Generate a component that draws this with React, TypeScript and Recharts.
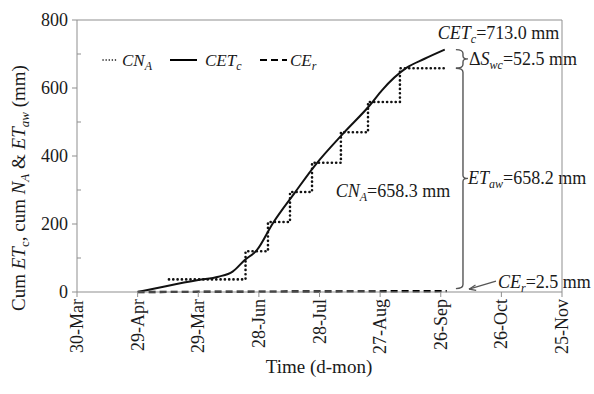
import React from 'react';
import {
  LineChart,
  Line,
  XAxis,
  YAxis,
  ReferenceLine,
  ReferenceArea,
  ReferenceDot,
  Legend,
  Label,
} from 'recharts';

const FONT = '"Liberation Serif", "Times New Roman", serif';
const TEXT = '#1a1a1a';
const AXIS = '#8f8f8f';
const BRACKET = '#555555';

// x axis: days since 30-Mar
const xTickDays = [0, 30, 60, 90, 120, 150, 180, 210, 240];
const xTickLabels = ['30-Mar', '29-Apr', '29-Mar', '28-Jun', '28-Jul', '27-Aug', '26-Sep', '26-Oct', '25-Nov'];
const yTicks = [0, 100, 200, 300, 400, 500, 600, 700, 800];

// cumulative crop evapotranspiration CET_c
const cetDays = [30, 44, 60, 70, 77, 83, 89, 97, 108, 118, 132, 145, 151, 163, 172, 182];
const cetValues = [0, 17, 35, 45, 60, 94, 123, 203, 294, 374, 468, 550, 594, 659, 686, 713];

// cumulative applied water CN_A (step)
const cnDays = [45.5, 83.4, 94.5, 105.4, 116.3, 130.6, 144, 159.8, 182];
const cnValues = [37, 120, 206, 294, 380, 470, 559, 658.3, 658.3];

// cumulative effective rainfall CE_r
const ceDays = [30, 100, 183];
const ceValues = [0, 1.2, 2.5];

const cetSeries = cetDays.map((d, i) => ({ d, v: cetValues[i] }));
const cnSeries = cnDays.map((d, i) => ({ d, v: cnValues[i] }));
const ceSeries = ceDays.map((d, i) => ({ d, v: ceValues[i] }));

const FS = 18;

const XTick = (props: any) => {
  const { x, y, payload } = props;
  const idx = xTickDays.indexOf(payload.value);
  return (
    <text
      x={x}
      y={y}
      dy={6}
      transform={`rotate(-90 ${x} ${y})`}
      textAnchor="end"
      fontFamily={FONT}
      fontSize={FS}
      fill={TEXT}
    >
      {idx >= 0 ? xTickLabels[idx] : ''}
    </text>
  );
};

const YTick = (props: any) => {
  const { x, y, payload } = props;
  const v = payload.value;
  const major = v % 200 === 0;
  return (
    <g>
      {major ? (
        <line x1={x - 5} x2={x} y1={y} y2={y} stroke={AXIS} />
      ) : (
        <line x1={x} x2={x + 4} y1={y} y2={y} stroke={AXIS} />
      )}
      {major && (
        <text x={x - 9} y={y} dy={6} textAnchor="end" fontFamily={FONT} fontSize={FS} fill={TEXT}>
          {v}
        </text>
      )}
    </g>
  );
};

const YTitle = () => (
  <text
    x={25}
    y={188}
    transform="rotate(-90 25 188)"
    textAnchor="middle"
    fontFamily={FONT}
    fontSize={19}
    fill={TEXT}
  >
    <tspan>Cum </tspan>
    <tspan fontStyle="italic">ET</tspan>
    <tspan fontSize={13} dy={4}>c</tspan>
    <tspan dy={-4}>, cum </tspan>
    <tspan fontStyle="italic">N</tspan>
    <tspan fontSize={13} dy={4} fontStyle="italic">A</tspan>
    <tspan dy={-4}> &amp; </tspan>
    <tspan fontStyle="italic">ET</tspan>
    <tspan fontSize={13} dy={4} fontStyle="italic">aw</tspan>
    <tspan dy={-4}> (mm)</tspan>
  </text>
);

const XTitle = () => (
  <text x={319} y={373} textAnchor="middle" fontFamily={FONT} fontSize={19} fill={TEXT}>
    Time (d-mon)
  </text>
);

const renderLegend = () => (
  <svg width={240} height={24} style={{ overflow: 'visible' }}>
    <line x1={3} x2={17} y1={12} y2={12} stroke="#000" strokeWidth={1.5} strokeDasharray="0.1 3" strokeLinecap="round" />
    <text x={22} y={18} fontFamily={FONT} fontSize={17} fontStyle="italic" fill={TEXT}>
      <tspan>CN</tspan>
      <tspan fontSize={12} dy={4}>A</tspan>
    </text>
    <line x1={70} x2={97} y1={12} y2={12} stroke="#000" strokeWidth={2} />
    <text x={105} y={18} fontFamily={FONT} fontSize={17} fontStyle="italic" fill={TEXT}>
      <tspan>CET</tspan>
      <tspan fontSize={12} dy={4}>c</tspan>
    </text>
    <line x1={160} x2={187} y1={12} y2={12} stroke="#000" strokeWidth={2} strokeDasharray="7 4" />
    <text x={190} y={18} fontFamily={FONT} fontSize={17} fontStyle="italic" fill={TEXT}>
      <tspan>CE</tspan>
      <tspan fontSize={12} dy={4}>r</tspan>
    </text>
  </svg>
);

const bracketPath = (x: number, y: number, w: number, h: number) => {
  const xl = x;
  const xv = x + w;
  const xt = xv + 5;
  const top = y;
  const bot = y + h;
  const mid = y + h / 2;
  return `M ${xl} ${top} Q ${xv} ${top} ${xv} ${top + 4} L ${xv} ${mid - 3} Q ${xv} ${mid} ${xt} ${mid} Q ${xv} ${mid} ${xv} ${mid + 3} L ${xv} ${bot - 4} Q ${xv} ${bot} ${xl} ${bot}`;
};

const SmallBracket = (props: any) => {
  const { x, y, width, height } = props;
  const mid = y + height / 2;
  return (
    <g>
      <path d={bracketPath(x, y, width, height)} fill="none" stroke={BRACKET} strokeWidth={1.4} />
      <text x={x + width + 6} y={mid + 6} fontFamily={FONT} fontSize={FS} fill={TEXT}>
        <tspan>Δ</tspan>
        <tspan fontStyle="italic">S</tspan>
        <tspan fontStyle="italic" fontSize={12} dy={4}>wc</tspan>
        <tspan dy={-4}>=52.5 mm</tspan>
      </text>
    </g>
  );
};

const BigBracket = (props: any) => {
  const { x, y, width, height } = props;
  const mid = y + height / 2;
  return (
    <g>
      <path d={bracketPath(x, y, width, height)} fill="none" stroke={BRACKET} strokeWidth={1.4} />
      <text x={x + width + 5} y={mid + 6} fontFamily={FONT} fontSize={FS} fill={TEXT}>
        <tspan fontStyle="italic">ET</tspan>
        <tspan fontStyle="italic" fontSize={12} dy={4}>aw</tspan>
        <tspan dy={-4}>=658.2 mm</tspan>
      </text>
    </g>
  );
};

const CetLabel = (props: any) => {
  const { viewBox } = props;
  const cx = viewBox.x;
  const cy = viewBox.y;
  return (
    <text x={cx - 7} y={cy - 11} fontFamily={FONT} fontSize={FS} fill={TEXT}>
      <tspan fontStyle="italic">CET</tspan>
      <tspan fontStyle="italic" fontSize={12} dy={4}>c</tspan>
      <tspan dy={-4}>=713.0 mm</tspan>
    </text>
  );
};

const CnLabel = (props: any) => {
  const { viewBox } = props;
  return (
    <text x={viewBox.x} y={viewBox.y + 6} fontFamily={FONT} fontSize={FS} fill={TEXT}>
      <tspan fontStyle="italic">CN</tspan>
      <tspan fontStyle="italic" fontSize={12} dy={4}>A</tspan>
      <tspan dy={-4}>=658.3 mm</tspan>
    </text>
  );
};

const CeLabel = (props: any) => {
  const { viewBox } = props;
  const cx = viewBox.x;
  const cy = viewBox.y;
  const hx = cx + 6;
  const hy = cy - 2;
  const tx = cx + 33;
  const ty = cy - 10;
  return (
    <g>
      <line x1={tx} y1={ty} x2={hx} y2={hy} stroke={BRACKET} strokeWidth={1.2} />
      <path d={`M ${hx} ${hy} l 6.5 -4.2 M ${hx} ${hy} l 7.2 1.2`} stroke={BRACKET} strokeWidth={1.2} fill="none" />
      <text x={cx + 35} y={cy - 3} fontFamily={FONT} fontSize={FS} fill={TEXT}>
        <tspan fontStyle="italic">CE</tspan>
        <tspan fontStyle="italic" fontSize={12} dy={4}>r</tspan>
        <tspan dy={-4}>=2.5 mm</tspan>
      </text>
    </g>
  );
};

export default function App() {
  return (
    <div style={{ position: 'absolute', left: 0, top: 0, width: 594, height: 394, background: '#fff' }}>
      <LineChart width={594} height={394} margin={{ top: 20, right: 32, bottom: 0, left: 0 }}>
        <XAxis
          type="number"
          dataKey="d"
          domain={[0, 240]}
          ticks={xTickDays}
          interval={0}
          height={102}
          tick={(p: any) => <XTick {...p} />}
          tickSize={5}
          axisLine={{ stroke: AXIS }}
          tickLine={{ stroke: AXIS }}
        >
          <Label content={() => <XTitle />} />
        </XAxis>
        <YAxis
          type="number"
          domain={[0, 800]}
          ticks={yTicks}
          interval={0}
          width={77}
          tick={(p: any) => <YTick {...p} />}
          tickSize={0}
          tickMargin={0}
          tickLine={false}
          axisLine={{ stroke: AXIS }}
        >
          <Label content={() => <YTitle />} />
        </YAxis>
        <ReferenceLine y={800} stroke={AXIS} />
        <ReferenceLine x={240} stroke={AXIS} />
        <Legend
          verticalAlign="middle"
          align="center"
          layout="horizontal"
          content={renderLegend}
          wrapperStyle={{ top: 48, left: 100, width: 240, height: 24 }}
        />
        <Line
          data={ceSeries}
          dataKey="v"
          type="linear"
          stroke="#000"
          strokeWidth={2.4}
          strokeDasharray="7 4"
          dot={false}
          activeDot={false}
          isAnimationActive={false}
        />
        <Line
          data={cetSeries}
          dataKey="v"
          type="monotone"
          stroke="#111"
          strokeWidth={2}
          dot={false}
          activeDot={false}
          isAnimationActive={false}
        />
        <Line
          data={cnSeries}
          dataKey="v"
          type="stepAfter"
          stroke="#111"
          strokeWidth={2.6}
          strokeDasharray="0.1 4.2"
          strokeLinecap="round"
          dot={false}
          activeDot={false}
          isAnimationActive={false}
        />
        <ReferenceArea x1={187.5} x2={191} y1={658.3} y2={713} shape={(p: any) => <SmallBracket {...p} />} />
        <ReferenceArea x1={187.5} x2={191} y1={10} y2={658.3} shape={(p: any) => <BigBracket {...p} />} />
        <ReferenceDot x={182} y={713} r={0} stroke="none" fill="none" label={{ content: (p: any) => <CetLabel {...p} /> }} />
        <ReferenceDot x={128} y={297} r={0} stroke="none" fill="none" label={{ content: (p: any) => <CnLabel {...p} /> }} />
        <ReferenceDot x={191} y={2.5} r={0} stroke="none" fill="none" label={{ content: (p: any) => <CeLabel {...p} /> }} />
      </LineChart>
    </div>
  );
}
